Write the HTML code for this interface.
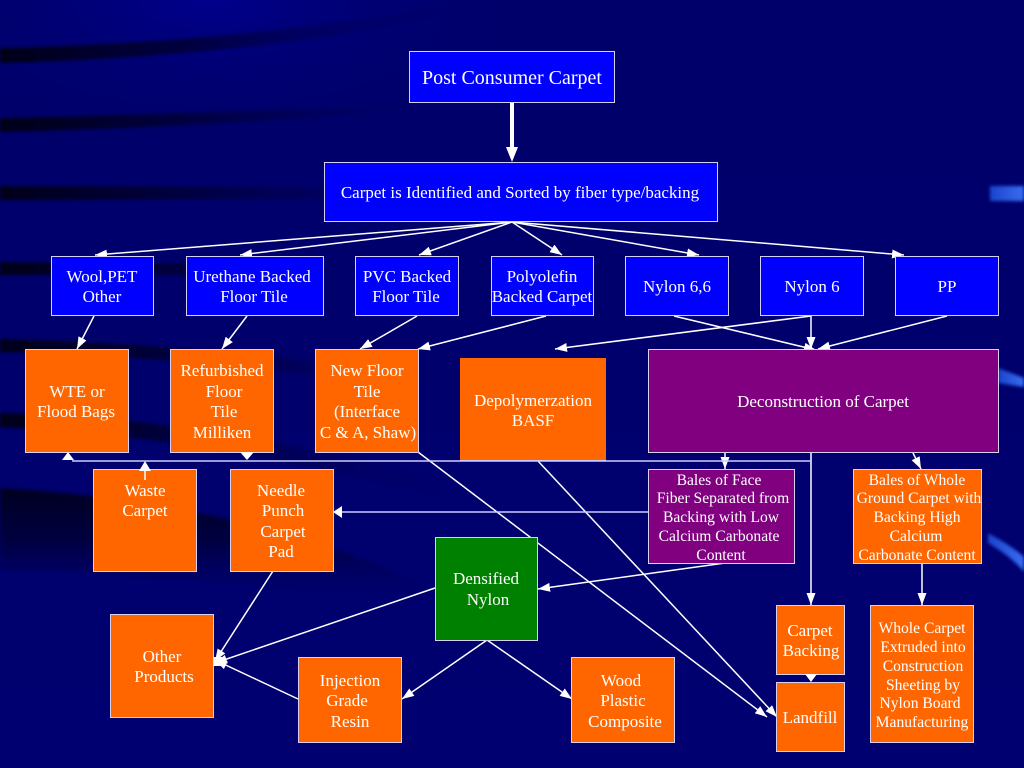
<!DOCTYPE html>
<html><head><meta charset="utf-8"><style>
html,body{margin:0;padding:0;background:#000066}
svg{display:block}
text{font-family:"Liberation Serif",serif;fill:#fff;text-anchor:middle;font-size:17px}
.s{font-size:15.6px}
.box{stroke:#d8d0f0;stroke-width:1}
.o{fill:#ff6600}.b{fill:#0000ff}.p{fill:#800080}.g{fill:#008000}
.l{stroke:#fff;stroke-width:1.5;fill:none}
.l path{marker-end:url(#ah)}
.m{stroke:#ccccff;stroke-width:1.5;fill:none}
.a{fill:#fff;stroke:none}
</style></head><body>
<svg width="1024" height="768" viewBox="0 0 1024 768" xmlns="http://www.w3.org/2000/svg">
<defs>
<marker id="ah" markerUnits="userSpaceOnUse" markerWidth="12" markerHeight="9" refX="12" refY="4.500" orient="auto"><path d="M0 0L12 4.500L0 9Z" fill="#fff"/></marker>
<linearGradient id="bg" x1="0" y1="0" x2="0" y2="1"><stop offset="0" stop-color="#00006a"/><stop offset="1" stop-color="#000070"/></linearGradient>
<linearGradient id="dk" gradientUnits="userSpaceOnUse" x1="0" y1="0" x2="470" y2="0"><stop offset="0" stop-color="#000018"/><stop offset=".4" stop-color="#000040"/><stop offset="1" stop-color="#000066" stop-opacity="0"/></linearGradient>
<linearGradient id="wd" x1="0" y1="0" x2="0" y2="1"><stop offset="0" stop-color="#000020"/><stop offset=".5" stop-color="#000044"/><stop offset="1" stop-color="#000066" stop-opacity="0"/></linearGradient>
<radialGradient id="tl" cx=".3" cy="0" r=".5"><stop offset="0" stop-color="#00008c"/><stop offset="1" stop-color="#00006a" stop-opacity="0"/></radialGradient>
<filter id="bl"><feGaussianBlur stdDeviation="1.500"/></filter>
<linearGradient id="bv" x1="0" y1="0" x2="1" y2="0"><stop offset="0" stop-color="#1a44cc"/><stop offset="1" stop-color="#3a6cf0"/></linearGradient>
</defs>
<rect width="1024" height="768" fill="url(#bg)"/>
<rect width="700" height="300" fill="url(#tl)"/>
<g filter="url(#bl)">
<path d="M0 48C180 44 340 26 470 0L520 0C380 36 190 58 0 63Z" fill="url(#dk)"/>
<path d="M0 118C160 115 320 109 457 102L457 108C320 119 160 128 0 132Z" fill="url(#dk)"/>
<path d="M0 186L330 187L330 199L0 200Z" fill="url(#dk)"/>
<path d="M0 262L300 264L300 275L0 275Z" fill="url(#dk)"/>
<path d="M0 339C110 342 220 347 450 378L450 392C220 362 110 354 0 352Z" fill="url(#dk)"/>
<path d="M0 413C120 415 240 430 440 480L440 494C240 449 120 432 0 427Z" fill="url(#dk)"/>
<path d="M0 488C160 498 320 530 440 595L440 600C300 590 150 575 0 570Z" fill="url(#wd)"/>
<rect x="990" y="186" width="34" height="15" fill="url(#bv)"/>
<path d="M998 368L1024 378L1024 387L998 383Z" fill="url(#bv)"/>
<path d="M988 533C1002 541 1014 548 1024 557L1024 572C1014 560 1002 551 988 543Z" fill="url(#bv)"/>
</g>

<!-- lines -->
<g class="l">
<path d="M512 222L95 255"/><path d="M512 222L240 255"/><path d="M512 222L419 255"/><path d="M512 222L562 255"/><path d="M512 222L699 255"/><path d="M512 222L904 255"/>
<path d="M94 316L77 349"/><path d="M247 316L222 349"/><path d="M417 316L360 349"/><path d="M546 316L418 349"/>
<path d="M674 316L816 350"/><path d="M811 316L811 349"/><path d="M811 316L555 349"/><path d="M947 316L818 349"/>
<path d="M725 453L725 469"/><path d="M913 453L921 469"/>
<path d="M811 452L811 605"/><path d="M922 563L922 605"/>
<path d="M418 452L767 717"/><path d="M538 461L777 717"/>
<path d="M725 563L538 589"/><path d="M487 640L402 699"/><path d="M487 640L572 699"/>
<path d="M273 571L215 661"/><path d="M435 588L215 663"/><path d="M298 699L215 660"/>
</g>
<path class="l" style="stroke-width:4" d="M512 102V150"/>
<path class="m" d="M72 461H811M648 512H340"/>

<!-- boxes -->
<rect class="box b" x="409.500" y="51.500" width="205" height="51"/>
<rect class="box b" x="324.500" y="162.500" width="393" height="59"/>
<rect class="box b" x="51.500" y="256.500" width="102" height="59"/>
<rect class="box b" x="186.500" y="256.500" width="137" height="59"/>
<rect class="box b" x="355.500" y="256.500" width="103" height="59"/>
<rect class="box b" x="491.500" y="256.500" width="102" height="59"/>
<rect class="box b" x="625.500" y="256.500" width="103" height="59"/>
<rect class="box b" x="760.500" y="256.500" width="103" height="59"/>
<rect class="box b" x="895.500" y="256.500" width="103" height="59"/>
<rect class="box o" x="25.500" y="349.500" width="103" height="103"/>
<rect class="box o" x="170.500" y="349.500" width="103" height="103"/>
<rect class="box o" x="315.500" y="349.500" width="103" height="103"/>
<rect class="o" x="460" y="358" width="146" height="102.500"/>
<rect class="box p" x="648.500" y="349.500" width="350" height="103"/>
<rect class="box o" x="93.500" y="469.500" width="103" height="102"/>
<rect class="box o" x="230.500" y="469.500" width="103" height="102"/>
<rect class="box p" x="648.500" y="469.500" width="146" height="94"/>
<rect class="box o" x="853.500" y="469.500" width="128" height="94"/>
<rect class="box g" x="435.500" y="537.500" width="102" height="103"/>
<rect class="box o" x="110.500" y="614.500" width="103" height="103"/>
<rect class="box o" x="298.500" y="657.500" width="103" height="85"/>
<rect class="box o" x="571.500" y="657.500" width="103" height="85"/>
<rect class="box o" x="776.500" y="605.500" width="68" height="69"/>
<rect class="box o" x="776.500" y="682.500" width="68" height="69"/>
<rect class="box o" x="870.500" y="605.500" width="103" height="137"/>
<path class="m" style="stroke-width:1" d="M460 460.500H606"/>

<!-- arrowheads over boxes -->
<path class="l" d="M145 480V468" style="marker:none"/>
<g class="a">
<path d="M512 162L506 147H518Z"/>
<path d="M68 452L74 460H62ZM145 461L151 471H139ZM247 460L240 452H254Z"/>
<path d="M333 512L342 506V518Z"/>
<path d="M811 682L805 674H817Z"/>
<rect x="213.500" y="657" width="9" height="9"/>
</g>

<!-- labels -->
<text x="512" y="84" style="font-size:20px">Post Consumer Carpet</text>
<text x="520" y="198">Carpet is Identified and Sorted by fiber type/backing</text>
<text x="102" y="282">Wool,PET</text><text x="102" y="302">Other</text>
<text x="252" y="282">Urethane Backed</text><text x="254" y="302">Floor Tile</text>
<text x="407" y="282">PVC Backed</text><text x="406" y="302">Floor Tile</text>
<text x="542" y="282">Polyolefin</text><text x="542" y="302">Backed Carpet</text>
<text x="677" y="292">Nylon 6,6</text>
<text x="812" y="292">Nylon 6</text>
<text x="947" y="292">PP</text>
<text x="77" y="397">WTE or</text><text x="76" y="417">Flood Bags</text>
<text x="222" y="376">Refurbished</text><text x="224" y="397">Floor</text><text x="224" y="417">Tile</text><text x="222" y="438">Milliken</text>
<text x="367" y="376">New Floor</text><text x="367" y="397">Tile</text><text x="367" y="417">(Interface</text><text x="368" y="438">C &amp; A, Shaw)</text>
<text x="533" y="406">Depolymerzation</text><text x="533" y="426">BASF</text>
<text x="823" y="407">Deconstruction of Carpet</text>
<text x="145" y="496">Waste</text><text x="145" y="516">Carpet</text>
<text x="281" y="496">Needle</text><text x="283" y="516">Punch</text><text x="283" y="537">Carpet</text><text x="281" y="557">Pad</text>
<text class="s" x="719" y="485">Bales of Face</text><text class="s" x="723" y="503">Fiber Separated from</text><text class="s" x="721" y="522">Backing with Low</text><text class="s" x="719" y="541">Calcium Carbonate</text><text class="s" x="721" y="560">Content</text>
<text class="s" x="917" y="485">Bales of Whole</text><text class="s" x="919" y="503">Ground Carpet with</text><text class="s" x="917" y="522">Backing High</text><text class="s" x="916" y="541">Calcium</text><text class="s" x="917" y="560">Carbonate Content</text>
<text x="486" y="584">Densified</text><text x="488" y="605">Nylon</text>
<text x="162" y="662">Other</text><text x="164" y="682">Products</text>
<text x="350" y="686">Injection</text><text x="347" y="706">Grade</text><text x="350" y="727">Resin</text>
<text x="621" y="686">Wood</text><text x="623" y="706">Plastic</text><text x="625" y="727">Composite</text>
<text x="810" y="636">Carpet</text><text x="811" y="656">Backing</text>
<text x="810" y="723">Landfill</text>
<text class="s" x="922" y="633">Whole Carpet</text><text class="s" x="923" y="652">Extruded into</text><text class="s" x="923" y="671">Construction</text><text class="s" x="923" y="690">Sheeting by</text><text class="s" x="920" y="708">Nylon Board</text><text class="s" x="922" y="727">Manufacturing</text>
</svg>
</body></html>
